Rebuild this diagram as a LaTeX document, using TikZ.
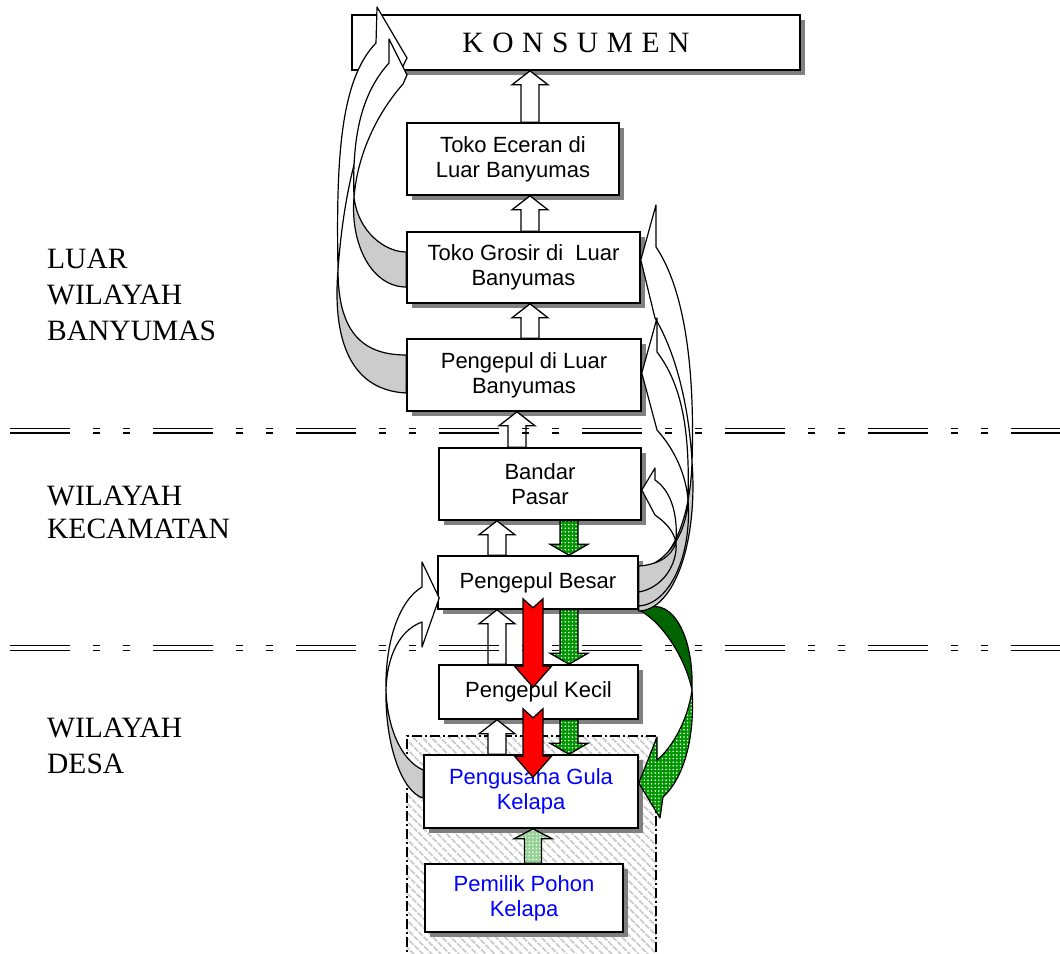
\documentclass[tikz,border=0pt]{standalone}
\usepackage{fontspec}
\setmainfont{Liberation Serif}
\setsansfont{Liberation Sans}
\usetikzlibrary{shadows,patterns,patterns.meta,calc}

\definecolor{ribbongray}{gray}{0.8}
\definecolor{shadowgray}{gray}{0.5}
\definecolor{darkribbon}{RGB}{0,100,0}
\definecolor{dotgreen}{RGB}{0,150,0}
\definecolor{palegreen}{RGB}{150,210,150}
\definecolor{hatchgray}{gray}{0.8}
\definecolor{wordblue}{RGB}{0,0,255}
\definecolor{arrowred}{RGB}{255,0,0}

\tikzset{
  box/.style={draw, line width=1.6pt, fill=white, inner sep=0pt, align=center,
    font=\sffamily\fontsize{22}{25}\selectfont,
    drop shadow={shadow xshift=5pt, shadow yshift=-5pt, fill=shadowgray, opacity=1}},
  region/.style={anchor=base west, inner sep=0pt, font=\rmfamily\fontsize{29.5}{36}\selectfont},
  dotfill/.style={pattern={Dots[distance=3.6pt,radius=0.85pt]}, pattern color=white, preaction={fill=#1}},
  whitearrow/.style={draw, line width=1.3pt, fill=white, line join=miter},
  greenarrow/.style={draw, line width=1.3pt, dotfill=dotgreen},
  palearrow/.style={draw, line width=1.3pt, dotfill=palegreen},
  redarrow/.style={draw, line width=1.3pt, fill=arrowred, line join=miter},
  ribbon/.style={draw, line width=1.2pt, line join=round},
  backface/.style={ribbon, fill=ribbongray},
  frontface/.style={ribbon, fill=white},
  sepline/.style={line width=1.8pt, dash pattern=on 60pt off 23pt on 7pt off 23pt on 7pt off 23pt},
}

% straight block arrow pointing up: style, x centre, tail anchor, tip anchor,
% shaft half width, head half width, head length
\newcommand\uparrowbox[7]{%
  \draw[#1] let \p1=(#3), \p2=(#4) in
    ({#2-#5},\y1) -- ({#2-#5},\y2-#7pt) -- ({#2-#6},\y2-#7pt) -- (#2,\y2)
    -- ({#2+#6},\y2-#7pt) -- ({#2+#5},\y2-#7pt) -- ({#2+#5},\y1) -- cycle;}
% straight block arrow pointing down
\newcommand\downarrowbox[7]{%
  \draw[#1] let \p1=(#3), \p2=(#4) in
    ({#2-#5},\y1) -- ({#2-#5},\y2+#7pt) -- ({#2-#6},\y2+#7pt) -- (#2,\y2)
    -- ({#2+#6},\y2+#7pt) -- ({#2+#5},\y2+#7pt) -- ({#2+#5},\y1) -- cycle;}
% notched block arrow pointing down, its tail starting inside the upper box
\newcommand\notchedarrow[4]{%
  \draw[#1] let \p1=(#3), \p2=(#4) in
    ({#2-10},\y1+11pt) -- (#2,\y1+2pt) -- ({#2+10},\y1+11pt) -- ({#2+10},\y2-2pt)
    -- ({#2+18.5},\y2-2pt) -- (#2,\y2-23pt) -- ({#2-18.5},\y2-2pt) -- ({#2-10},\y2-2pt) -- cycle;}

\begin{document}
\begin{tikzpicture}[x=1pt,y=-1pt]
\fill[white] (0,0) rectangle (1060,953);
\useasboundingbox (0,0) rectangle (1060,953);

% hatched village area
\path[pattern={Lines[angle=-45,distance=6.5pt,line width=2.2pt]}, pattern color=hatchgray]
  (407,736) rectangle (656,965);
\draw[line width=1.3pt, dash pattern=on 10pt off 3pt on 2pt off 3pt]
  (407,965) -- (407,736) -- (656,736) -- (656,965);

% region labels
\node[region] (luar1) at (47,268) {LUAR};
\node[region] (luar2) at (47,304) {WILAYAH};
\node[region] (luar3) at (47,340) {BANYUMAS};
\node[region] (kec1) at (47,505) {WILAYAH};
\node[region] (kec2) at (47,538) {KECAMATAN};
\node[region] (desa1) at (47,737) {WILAYAH};
\node[region] (desa2) at (47,773) {DESA};

% boxes
\node[box, minimum width=448pt, minimum height=55pt, font=\rmfamily\fontsize{29.5}{35}\selectfont]
  (kons) at (576,42.5) {{\spaceskip=0.29em\relax K O N S U M E N}};
\node[box, minimum width=212pt, minimum height=72pt] (eceran) at (513,159) {Toko Eceran di\\Luar Banyumas};
\node[box, minimum width=233pt, minimum height=71pt] (grosir) at (523.5,267.5) {Toko Grosir di~~Luar\\Banyumas};
\node[box, minimum width=234pt, minimum height=72pt] (pluar) at (524,375) {Pengepul di Luar\\Banyumas};
\node[box, minimum width=202pt, minimum height=72pt] (bandar) at (540,484) {Bandar\\Pasar};
\node[box, minimum width=200pt, minimum height=53pt] (besar) at (538,582.5) {Pengepul Besar};
\node[box, minimum width=199pt, minimum height=54pt] (kecil) at (538.5,692) {Pengepul Kecil};
\node[box, minimum width=214pt, minimum height=73pt, text=wordblue] (pengusaha) at (531,791.5) {Pengusaha Gula\\Kelapa};
\node[box, minimum width=198pt, minimum height=68pt, text=wordblue] (pemilik) at (524,898) {Pemilik Pohon\\Kelapa};

% straight flows upwards
\uparrowbox{whitearrow}{530}{eceran.north}{kons.south}{9}{18}{14}
\uparrowbox{whitearrow}{530}{grosir.north}{eceran.south}{9}{18}{14}
\uparrowbox{whitearrow}{530}{pluar.north}{grosir.south}{9}{18}{14}
\uparrowbox{whitearrow}{517}{bandar.north}{pluar.south}{9}{18}{14}
\uparrowbox{whitearrow}{497}{besar.north}{bandar.south}{9}{18}{14}
\uparrowbox{whitearrow}{497}{kecil.north}{besar.south}{9}{18}{14}
\uparrowbox{whitearrow}{497}{pengusaha.north}{kecil.south}{9}{18}{14}
\uparrowbox{palearrow}{533}{pemilik.north}{pengusaha.south}{8.5}{19}{10}

% straight flows downwards
\downarrowbox{greenarrow}{569}{bandar.south}{besar.north}{9}{19}{11}
\downarrowbox{greenarrow}{569}{besar.south}{kecil.north}{9}{19}{11}
\downarrowbox{greenarrow}{569}{kecil.south}{pengusaha.north}{9}{19}{11}

% curved flow from Pengepul Besar down to Pengusaha Gula Kelapa
\draw[ribbon, fill=darkribbon] ($(besar.east)+(2,28.5)$) .. controls (668,593) and (694,630) .. (692,690)
  .. controls (686,660) and (664,624) .. ($(besar.east)+(2,28.5)$) -- cycle;
\draw[ribbon, dotfill=dotgreen]
  (692,690) .. controls (688,720) and (672,748) .. (657,760) -- (657,737)
  -- ($(pengusaha.east)+(0,-8.5)$) -- (660,818) -- (663,797)
  .. controls (685,777) and (695,735) .. (692,690) -- cycle;

% curved flows from Pengepul Besar up to the outer traders
\draw[backface] ($(besar.east)+(0,-10.5)$) .. controls (665,570) and (690,530) .. (692,462)
  .. controls (698,540) and (675,610) .. ($(besar.east)+(0,28.5)$) -- cycle;
\draw[frontface] (692,462) .. controls (695,370) and (685,290) .. (656,247) -- (656,205)
  -- ($(grosir.east)+(0,-7.5)$) -- (655,318) .. controls (680,360) and (690,420) .. (692,462) -- cycle;

\draw[backface] ($(besar.east)+(0,-13.5)$) .. controls (662,565) and (686,540) .. (688,500)
  .. controls (692,555) and (670,604) .. ($(besar.east)+(0,23.5)$) -- cycle;
\draw[frontface] (688,500) .. controls (690,430) and (682,385) .. (657,352) -- (657,318)
  -- ($(pluar.east)+(0,-2)$) -- (657,430) .. controls (675,450) and (686,475) .. (688,500) -- cycle;

\draw[backface] ($(besar.east)+(0,-16.5)$) .. controls (655,565) and (672,558) .. (676,542)
  .. controls (678,565) and (662,588) .. ($(besar.east)+(0,9.5)$) -- cycle;
\draw[frontface] (676,542) .. controls (678,512) and (670,490) .. (655,480) -- (655,468)
  -- ($(bandar.east)+(0,6)$) -- (655,515) .. controls (665,522) and (673,530) .. (676,542) -- cycle;

% curved flows from the outer collectors and wholesalers to the consumers
\draw[backface] ($(pluar.west)+(0,-20)$) .. controls (365,355) and (338,335) .. (338,270)
  .. controls (333,330) and (345,390) .. ($(pluar.west)+(0,18)$) -- cycle;
\draw[frontface] (338,270) .. controls (336,160) and (340,80) .. (376,43) -- (377,7)
  -- (407,58) -- (402,68) .. controls (370,95) and (345,170) .. (338,270) -- cycle;

\draw[backface] ($(grosir.west)+(0,-15.5)$) .. controls (385,252) and (358,232) .. (354,197)
  .. controls (350,245) and (372,287) .. ($(grosir.west)+(0,19.5)$) -- cycle;
\draw[frontface] (354,197) .. controls (352,140) and (360,95) .. (389,63) -- (389,39)
  -- (407,75) -- (403,84) .. controls (380,110) and (358,150) .. (354,197) -- cycle;

% curved flow from Pengusaha Gula Kelapa to Pengepul Besar
\draw[backface] ($(pengusaha.west)+(0,-21.5)$) .. controls (400,760) and (387,725) .. (386,690)
  .. controls (385,745) and (402,792) .. ($(pengusaha.west)+(0,6.5)$) -- cycle;
\draw[frontface] (386,690) .. controls (385,640) and (400,600) .. (422,587) -- (422,562)
  -- ($(besar.west)+(2,15.5)$) -- (422,647) -- (422,622)
  .. controls (400,630) and (387,655) .. (386,690) -- cycle;

% boundaries between the regions
\draw[sepline] (10,428.5) -- (1060,428.5);
\draw[sepline] (10,433) -- (1060,433);
\draw[sepline] (10,645.5) -- (1060,645.5);
\draw[sepline] (10,650.5) -- (1060,650.5);

% direct flows downwards
\notchedarrow{redarrow}{533}{besar.south}{kecil.north}
\notchedarrow{redarrow}{533}{kecil.south}{pengusaha.north}
\end{tikzpicture}
\end{document}
